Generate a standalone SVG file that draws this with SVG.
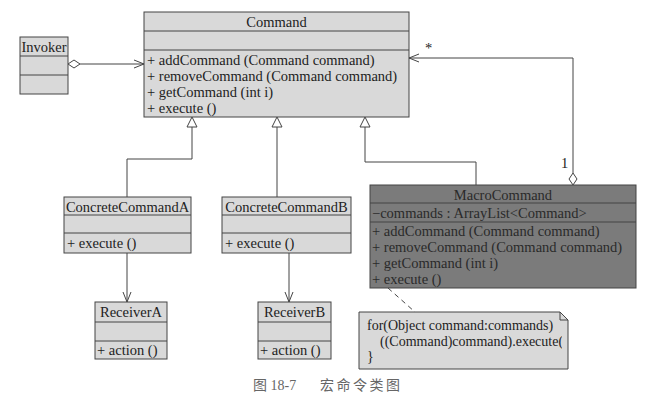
<svg xmlns="http://www.w3.org/2000/svg" width="648" height="417" viewBox="0 0 648 417">
<style>
.box{fill:#d9d9d9;stroke:#444;stroke-width:1}
.dark{fill:#7b7b7b;stroke:#444;stroke-width:1}
.t{font-family:"Liberation Serif","Times New Roman",serif;font-size:14.5px;fill:#222}
.td{font-family:"Liberation Serif","Times New Roman",serif;font-size:14.5px;fill:#2a2a2a}
.n{font-family:"Liberation Serif","Times New Roman",serif;font-size:14px;fill:#222}
.c{text-anchor:middle}
.ln{fill:none;stroke:#444;stroke-width:1}
.cap{font-family:"Liberation Serif","Noto Sans CJK SC",serif;font-size:14px;fill:#666}
</style>
<defs>
<marker id="open" viewBox="0 0 10 10" refX="10" refY="5" markerWidth="10" markerHeight="10" markerUnits="userSpaceOnUse" orient="auto">
<path d="M0,1 L10,5 L0,9" fill="none" stroke="#444" stroke-width="1"/>
</marker>
</defs>

<g id="Command">
<rect class="box" x="144" y="12" width="265" height="105"/>
<line class="ln" x1="144" y1="31" x2="409" y2="31"/>
<line class="ln" x1="144" y1="50" x2="409" y2="50"/>
<text class="t c" x="276.5" y="27">Command</text>
<text class="t" x="147" y="65">+ addCommand (Command command)</text>
<text class="t" x="147" y="81">+ removeCommand (Command command)</text>
<text class="t" x="147" y="97">+ getCommand (int i)</text>
<text class="t" x="147" y="112.500">+ execute ()</text>
</g>

<g id="Invoker">
<rect class="box" x="20" y="37" width="48" height="57"/>
<line class="ln" x1="20" y1="56" x2="68" y2="56"/>
<line class="ln" x1="20" y1="75" x2="68" y2="75"/>
<text class="t c" x="44" y="51.500">Invoker</text>
</g>

<g id="ConcreteCommandA">
<rect class="box" x="64" y="197" width="127" height="56"/>
<line class="ln" x1="64" y1="215" x2="191" y2="215"/>
<line class="ln" x1="64" y1="233" x2="191" y2="233"/>
<text class="t c" x="127.500" y="211.500">ConcreteCommandA</text>
<text class="t" x="67" y="248">+ execute ()</text>
</g>

<g id="ConcreteCommandB">
<rect class="box" x="222" y="197" width="129" height="56"/>
<line class="ln" x1="222" y1="215" x2="351" y2="215"/>
<line class="ln" x1="222" y1="233" x2="351" y2="233"/>
<text class="t c" x="286.500" y="211.500">ConcreteCommandB</text>
<text class="t" x="225" y="248">+ execute ()</text>
</g>

<g id="MacroCommand">
<rect class="dark" x="370" y="185" width="266" height="103"/>
<line class="ln" x1="370" y1="203" x2="636" y2="203"/>
<line class="ln" x1="370" y1="222" x2="636" y2="222"/>
<text class="td c" x="503" y="199.500">MacroCommand</text>
<text class="td" x="372" y="217.500">−commands  : ArrayList&lt;Command&gt;</text>
<text class="td" x="372" y="236">+ addCommand (Command command)</text>
<text class="td" x="372" y="252">+ removeCommand (Command command)</text>
<text class="td" x="372" y="268">+ getCommand (int i)</text>
<text class="td" x="372" y="284">+ execute ()</text>
</g>

<g id="ReceiverA">
<rect class="box" x="95" y="302" width="72" height="57"/>
<line class="ln" x1="95" y1="322" x2="167" y2="322"/>
<line class="ln" x1="95" y1="341" x2="167" y2="341"/>
<text class="t c" x="131" y="317">ReceiverA</text>
<text class="t" x="97" y="355">+ action ()</text>
</g>

<g id="ReceiverB">
<rect class="box" x="258" y="302" width="73" height="57"/>
<line class="ln" x1="258" y1="322" x2="331" y2="322"/>
<line class="ln" x1="258" y1="341" x2="331" y2="341"/>
<text class="t c" x="294.500" y="317">ReceiverB</text>
<text class="t" x="260" y="355">+ action ()</text>
</g>

<g id="Note">
<clipPath id="nc"><rect x="359" y="312" width="203" height="57"/></clipPath>
<path class="box" d="M359,312 L560,312 L568,320 L568,369 L359,369 Z"/>
<path class="ln" d="M560,312 L560,320 L568,320"/>
<g clip-path="url(#nc)">
<text class="n" x="367" y="330">for(Object command:commands)</text>
<text class="n" x="380" y="346">((Command)command).execute();</text>
<text class="n" x="367" y="361">}</text>
</g>
</g>

<g id="connectors">
<path class="ln" d="M80,64 L144,64" marker-end="url(#open)"/>
<path d="M68,64 L74,60 L80,64 L74,68 Z" fill="#fff" stroke="#444" stroke-width="1"/>
<path class="ln" d="M127,197 L127,159 L192,159 L192,127"/>
<path d="M192,117 L197,127 L187,127 Z" fill="#fff" stroke="#444" stroke-width="1"/>
<path class="ln" d="M277,197 L277,127"/>
<path d="M277,117 L282,127 L272,127 Z" fill="#fff" stroke="#444" stroke-width="1"/>
<path class="ln" d="M476,185 L476,162 L365,162 L365,127"/>
<path d="M365,117 L370,127 L360,127 Z" fill="#fff" stroke="#444" stroke-width="1"/>
<path class="ln" d="M573,173 L573,58 L409,58" marker-end="url(#open)"/>
<path d="M573,185 L569,179 L573,173 L577,179 Z" fill="#fff" stroke="#444" stroke-width="1"/>
<text class="t" x="425" y="53">*</text>
<text class="t" x="561" y="168">1</text>
<path class="ln" d="M127,253 L127,302" marker-end="url(#open)"/>
<path class="ln" d="M289,253 L289,302" marker-end="url(#open)"/>
<path class="ln" d="M388,288 L415,312" stroke-dasharray="5,4"/>
</g>

<text class="cap" x="253" y="390">图 18-7</text>
<text class="cap" x="320" y="390" style="letter-spacing:2.5px">宏命令类图</text>
</svg>
